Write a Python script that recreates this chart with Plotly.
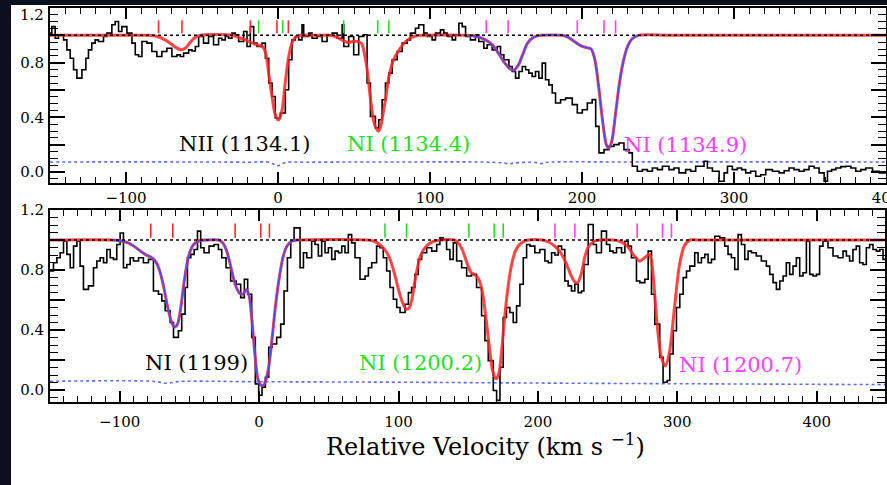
import plotly.graph_objects as go

# ---------------- data ----------------
# top panel: observed spectrum (left bin edges, normalised flux)
top_vel = [-150.0, -148.8, -146.6, -144.4, -141.1, -138.9, -136.7, -134.5, -132.3, -129.0,
           -126.4, -124.7, -122.5, -120.3, -118.1, -114.8, -112.6, -109.3, -107.1, -104.9,
           -102.7, -99.4, -96.1, -93.9, -91.7, -89.5, -86.2, -83.0, -79.7, -76.4,
           -73.1, -69.8, -66.5, -64.3, -62.1, -58.8, -56.6, -54.4, -52.2, -49.0,
           -45.7, -42.4, -39.1, -36.9, -34.7, -32.5, -30.3, -28.1, -25.9, -22.6,
           -20.4, -18.2, -16.0, -13.8, -10.5, -8.3, -6.1, -3.9, -1.8, 1.5,
           4.8, 7.0, 9.2, 11.4, 13.6, 15.8, 16.9, 20.2, 22.4, 25.7,
           29.0, 32.3, 35.6, 38.9, 42.2, 43.3, 46.5, 49.8, 53.1, 56.4,
           58.6, 60.8, 64.1, 66.3, 68.5, 70.7, 72.9, 75.1, 78.4, 81.7,
           85.0, 87.1, 90.4, 92.6, 95.9, 98.1, 101.4, 103.6, 106.9, 109.1,
           111.3, 114.6, 116.8, 119.0, 121.2, 123.4, 126.6, 129.9, 132.1, 135.4,
           137.6, 140.9, 144.2, 146.4, 148.6, 151.9, 154.1, 156.3, 158.5, 160.7,
           162.9, 165.0, 167.2, 169.4, 171.6, 173.8, 176.0, 178.2, 180.4, 182.6,
           185.9, 189.2, 193.6, 196.9, 200.2, 203.5, 206.7, 209.0, 211.2, 214.5,
           217.7, 221.0, 224.3, 227.6, 230.9, 233.1, 236.4, 239.7, 243.0, 246.3,
           249.6, 252.9, 257.2, 260.5, 263.8, 268.2, 271.5, 274.8, 280.3, 282.5,
           285.8, 290.2, 293.5, 295.7, 298.9, 302.2, 305.0, 307.7, 311.0, 314.3,
           317.6, 320.9, 325.3, 329.7, 333.0, 336.2, 339.5, 342.8, 346.1, 349.4,
           352.7, 356.0, 359.3, 361.5, 364.2, 367.0, 370.3, 373.6, 376.9, 380.1,
           383.4, 386.7, 391.1, 395.5]
top_flux = [1.016, 1.064, 0.979, 1.004, 0.967, 0.894, 0.833, 0.748, 0.687, 0.748,
            0.833, 0.894, 0.943, 0.967, 0.955, 0.991, 1.016, 1.077, 1.101, 1.028,
            1.064, 1.016, 0.943, 0.858, 0.845, 0.955, 0.943, 0.882, 0.845, 0.882,
            0.906, 0.845, 0.857, 0.845, 0.870, 0.894, 0.885, 0.918, 0.991, 0.943,
            0.991, 0.931, 0.979, 0.967, 0.991, 0.979, 1.016, 1.004, 0.955, 1.028,
            0.918, 1.064, 0.943, 0.918, 0.943, 0.833, 0.651, 0.553, 0.395, 0.432,
            0.602, 0.821, 0.967, 0.991, 0.967, 1.077, 0.991, 1.016, 0.979, 0.991,
            0.955, 1.004, 1.016, 0.979, 1.077, 0.918, 0.991, 0.858, 0.991, 1.004,
            0.651, 0.407, 0.322, 0.383, 0.529, 0.651, 0.724, 0.821, 0.882, 0.943,
            0.967, 1.016, 1.052, 1.077, 1.016, 0.991, 0.967, 1.016, 1.040, 1.016,
            0.991, 0.967, 1.004, 1.089, 1.064, 0.991, 0.967, 1.004, 0.955, 0.906,
            0.931, 0.894, 0.918, 0.858, 0.821, 0.772, 0.736, 0.687, 0.736, 0.772,
            0.748, 0.724, 0.699, 0.736, 0.687, 0.797, 0.675, 0.638, 0.578, 0.505,
            0.529, 0.541, 0.493, 0.432, 0.456, 0.505, 0.530, 0.334, 0.140, 0.164,
            0.188, 0.201, 0.213, 0.164, 0.140, 0.042, 0.006, 0.018, 0.006, 0.030,
            0.018, 0.042, 0.018, 0.030, -0.006, 0.018, 0.006, 0.042, 0.079, 0.030,
            0.006, -0.067, -0.006, 0.042, 0.018, 0.030, 0.018, -0.006, 0.006, -0.031,
            -0.020, 0.018, 0.006, -0.006, 0.010, 0.030, 0.018, 0.006, 0.018, 0.042,
            0.030, -0.006, -0.067, 0.006, 0.018, 0.030, 0.040, 0.042, 0.030, 0.006,
            0.018, 0.030, 0.006, -0.006]
top_vend = 400.0

# top panel: fitted model (red, blue part drawn over it)
top_model_vel = [-150, -100, -85, -79, -74, -70, -67, -64, -61, -58, -55, -51, -30, -26,
                 -21, -15, -10.5, -8.3, -6.1, -3.9, -1.8, 0.3, 2.6, 4.8, 7, 9.2, 11.4, 15,
                 22, 34, 39, 43, 46, 49, 52, 55, 57, 59, 61, 63, 64.5, 66, 67.5, 69,
                 71, 73, 76, 79.5, 84, 89, 95, 125, 131, 136, 141, 145, 149, 152.5,
                 155, 158, 161, 164, 168, 173, 187, 191, 195, 199, 203, 206, 208.5, 211,
                 213.5, 216, 217.5, 219.5, 222, 224.5, 227, 230, 233, 237, 260, 400]
top_model_flux = [1.0, 1.0, 1.0, 0.99, 0.965, 0.935, 0.91, 0.895, 0.905, 0.945, 0.98, 1.0, 1.0, 0.985,
                  0.965, 0.935, 0.92, 0.88, 0.72, 0.55, 0.42, 0.38, 0.45, 0.66, 0.84, 0.945, 0.985, 1.0,
                  1.0, 1.0, 0.985, 0.96, 0.948, 0.955, 0.955, 0.94, 0.86, 0.72, 0.52, 0.37, 0.32, 0.30, 0.33, 0.42,
                  0.55, 0.70, 0.82, 0.89, 0.955, 0.99, 1.0, 1.0, 0.99, 0.97, 0.93, 0.87, 0.80, 0.755,
                  0.745, 0.78, 0.86, 0.94, 0.985, 1.0, 1.0, 0.985, 0.955, 0.925, 0.91, 0.90, 0.82, 0.62,
                  0.38, 0.20, 0.175, 0.22, 0.42, 0.64, 0.80, 0.92, 0.975, 1.0, 1.0, 1.0]
top_blue_range = (125, 237)

top_err_vel = [-150, -60, -20, -5, -1, 1, 5, 20, 80, 140, 149, 152, 155, 170, 173, 176, 230, 400]
top_err_flux = [0.074, 0.074, 0.072, 0.070, 0.045, 0.050, 0.070, 0.072, 0.074, 0.072, 0.066,
                0.058, 0.066, 0.070, 0.062, 0.070, 0.074, 0.074]

top_red_comp = [-78.6, -63.2, -18.2, -0.7, 6.8]
top_green_comp = [-12.7, 3.1, 43.2, 65.6, 72.9]
top_magenta_comp = [137.0, 151.4, 196.9, 214.5, 222.1]

# bottom panel: observed spectrum
bot_vel = [-150.0, -147.5, -145.1, -142.7, -140.3, -137.9, -135.5, -133.1, -130.7, -128.4,
           -126.0, -122.4, -118.8, -116.4, -114.0, -111.6, -109.2, -106.8, -104.5, -102.1,
           -99.7, -97.3, -94.9, -92.5, -90.1, -86.5, -83.0, -79.4, -75.8, -72.2,
           -69.8, -67.4, -63.8, -61.4, -57.9, -55.5, -53.1, -51.4, -49.0, -46.6,
           -44.2, -41.9, -39.5, -35.9, -32.3, -29.2, -26.8, -23.7, -20.4, -16.5,
           -13.2, -10.6, -8.2, -5.3, -2.7, -0.3, 2.1, 4.5, 6.9, 9.3,
           12.6, 15.5, 17.9, 20.3, 22.7, 25.1, 29.4, 31.8, 34.2, 37.7,
           40.1, 42.5, 44.9, 47.3, 49.7, 52.1, 54.5, 56.9, 59.3, 61.6,
           64.0, 66.4, 68.8, 72.4, 76.0, 78.4, 80.8, 84.3, 86.7, 89.1,
           91.5, 93.9, 96.3, 98.7, 101.1, 104.7, 107.1, 109.4, 111.8, 114.2,
           116.6, 120.2, 123.8, 127.4, 129.7, 132.1, 134.5, 136.9, 139.3, 141.7,
           145.3, 148.9, 152.4, 156.0, 159.6, 162.0, 164.4, 168.0, 170.4, 172.8,
           175.1, 177.5, 179.9, 182.3, 184.7, 187.1, 189.5, 191.9, 194.3, 197.8,
           201.4, 205.0, 207.4, 209.8, 212.2, 214.6, 217.0, 219.3, 221.7, 224.1,
           226.5, 228.9, 231.3, 233.0, 236.1, 239.7, 242.0, 245.6, 249.2, 251.6,
           254.0, 256.4, 260.0, 262.4, 264.7, 267.1, 270.7, 273.1, 276.7, 279.1,
           281.5, 283.9, 287.4, 289.8, 292.7, 294.6, 297.0, 299.4, 301.8, 304.2,
           306.6, 309.0, 312.5, 314.9, 317.3, 319.7, 322.1, 324.5, 326.9, 330.5,
           334.0, 336.4, 338.8, 341.2, 343.6, 346.0, 348.4, 350.8, 353.2, 356.7,
           360.3, 363.9, 366.3, 368.7, 371.1, 373.5, 375.9, 378.2, 380.6, 383.0,
           385.4, 387.8, 390.2, 392.6, 395.0, 397.4, 399.8, 402.1, 404.5, 408.1,
           411.7, 415.3, 418.9, 421.3, 423.6, 426.0, 428.4, 430.8, 433.2, 435.6,
           438.0, 440.4, 442.8, 445.2, 447.6]
bot_flux = [0.793, 0.848, 0.882, 0.915, 0.992, 0.904, 0.815, 0.959, 0.992, 0.826,
            0.671, 0.694, 0.815, 0.860, 0.882, 0.848, 0.937, 0.882, 0.871, 0.970,
            1.047, 0.815, 0.837, 0.882, 0.860, 0.882, 0.848, 0.871, 0.660, 0.638,
            0.594, 0.528, 0.450, 0.351, 0.395, 0.506, 0.683, 0.882, 0.904, 0.937,
            1.059, 0.948, 0.915, 0.959, 0.970, 0.937, 0.882, 0.815, 0.727, 0.705,
            0.616, 0.738, 0.638, 0.351, 0.041, -0.035, 0.019, 0.085, 0.284, 0.307,
            0.351, 0.439, 0.660, 0.882, 0.992, 1.081, 0.815, 0.915, 0.882, 0.992,
            0.970, 0.893, 0.992, 0.915, 0.948, 0.871, 0.926, 0.915, 0.959, 0.915,
            1.036, 0.981, 0.882, 0.738, 0.760, 0.815, 0.848, 0.959, 0.948, 0.882,
            0.793, 0.683, 0.605, 0.550, 0.517, 0.572, 0.649, 0.683, 0.771, 0.871,
            0.915, 0.948, 0.926, 0.970, 1.014, 1.003, 0.937, 0.871, 0.981, 0.860,
            0.815, 0.760, 0.771, 0.683, 0.495, 0.329, 0.196, -0.003, -0.069, 0.152,
            0.483, 0.550, 0.517, 0.450, 0.561, 0.705, 0.882, 0.970, 0.959, 0.915,
            0.937, 0.860, 0.848, 0.915, 0.900, 0.959, 0.937, 0.727, 0.694, 0.660,
            0.705, 0.649, 0.660, 0.837, 1.103, 0.970, 0.915, 1.059, 0.970, 0.926,
            0.915, 0.948, 0.915, 0.992, 0.959, 0.882, 0.727, 0.716, 0.738, 0.926,
            0.638, 0.439, 0.218, 0.052, 0.063, 0.240, 0.395, 0.550, 0.638, 0.749,
            0.793, 0.826, 0.915, 0.848, 0.882, 0.904, 0.848, 0.871, 1.025, 1.014,
            0.959, 0.904, 0.882, 0.804, 1.036, 0.970, 0.871, 0.926, 0.915, 0.893,
            0.860, 0.826, 0.771, 0.716, 0.671, 0.727, 0.760, 0.848, 0.771, 0.826,
            0.882, 0.760, 0.782, 0.992, 0.771, 0.760, 0.771, 0.959, 0.992, 0.948,
            0.893, 0.882, 0.926, 0.893, 0.860, 0.937, 0.959, 0.848, 0.837, 0.948,
            0.970, 0.937, 0.926, 0.937, 0.871]
bot_vend = 449.0

bot_model_vel = [-150, -105, -100, -95, -90, -85, -81, -77.5, -74.5, -71.5, -68.5, -65.5, -62.5,
                 -60.5, -58.5, -56.5, -54.5, -52.5, -50, -47, -43, -38, -29, -26, -23, -20,
                 -17, -14, -11.5, -9, -7, -5, -3, -1, 1, 3, 5, 7, 9.5, 12, 14.5, 17, 20, 24,
                 29, 78, 83, 87, 91, 94, 97, 100, 103, 105.5, 107.5, 109.5, 111.5, 113.5, 116,
                 120, 125, 131, 140, 143, 146, 149, 152, 155, 157.5, 160, 162.5, 165, 167.5,
                 170, 172, 174, 176, 178.5, 181, 184, 188, 193, 203, 208, 212, 216, 220,
                 223.5, 226.5, 228.5, 231, 233.5, 236, 240, 245, 254, 259, 264, 269, 273,
                 277, 280, 281.5, 283, 285.5, 288.5, 291.5, 294.5, 298, 301.5, 305, 309,
                 315, 449]
bot_model_flux = [1.0, 1.0, 0.995, 0.985, 0.96, 0.925, 0.90, 0.885, 0.86, 0.80, 0.69, 0.55, 0.445,
                  0.42, 0.44, 0.53, 0.67, 0.80, 0.91, 0.97, 0.995, 1.0, 1.0, 0.98, 0.92, 0.81,
                  0.70, 0.645, 0.64, 0.67, 0.62, 0.45, 0.24, 0.08, 0.035, 0.03, 0.07, 0.16, 0.36, 0.58, 0.75, 0.88, 0.96, 0.995,
                  1.0, 1.0, 0.99, 0.965, 0.925, 0.87, 0.78, 0.67, 0.58, 0.54, 0.545, 0.60, 0.71, 0.81, 0.90,
                  0.96, 0.99, 1.0, 1.0, 0.98, 0.93, 0.85, 0.785, 0.765, 0.74, 0.66, 0.50, 0.30, 0.13,
                  0.075, 0.11, 0.26, 0.47, 0.68, 0.83, 0.93, 0.98, 1.0, 1.0, 0.985, 0.96, 0.92, 0.85,
                  0.77, 0.72, 0.715, 0.77, 0.88, 0.95, 0.99, 1.0, 1.0, 0.99, 0.96, 0.895, 0.86,
                  0.885, 0.905, 0.86, 0.73, 0.44, 0.22, 0.16, 0.26, 0.55, 0.83, 0.96, 1.0,
                  1.0, 1.0]
bot_blue_range = (-105, 29)

bot_err_vel = [-150, -75, -66, -58, 0, 100, 170, 250, 449]
bot_err_flux = [0.058, 0.057, 0.045, 0.056, 0.055, 0.052, 0.048, 0.044, 0.036]

bot_red_comp = [-77.7, -61.9, -17.2, 1.2, 7.4]
bot_green_comp = [90.3, 105.8, 150.5, 168.7, 175.1]
bot_magenta_comp = [212.2, 226.5, 271.2, 289.4, 295.8]

continuum = 1.0
y_label_ticks = [0.0, 0.4, 0.8, 1.2]
y_long_ticks = [0.2, 0.6, 1.0]

# ---------------- figure ----------------
W, H = 887, 485
FONT = "DejaVu Serif"
RED = "rgba(255,35,35,0.85)"
BLUE = "rgba(75,75,250,0.95)"
GREEN = "#1fe01f"
MAGENTA = "#ff3cff"

assert len(top_vel) == len(top_flux)
assert len(bot_vel) == len(bot_flux)
assert len(top_model_vel) == len(top_model_flux)
assert len(bot_model_vel) == len(bot_model_flux)

fig = go.Figure()


def add_panel(xa, ya, vel, flux, vend, mv, mf, brange, ev, ef, comps, vmin, vmax):
    fig.add_trace(go.Scatter(x=ev, y=ef, mode="lines", xaxis=xa, yaxis=ya,
                             line=dict(color="rgba(60,80,255,0.85)", width=1.6, dash="dot"),
                             line_shape="spline", hoverinfo="skip"))
    xs = list(vel) + [vend]
    ys = list(flux) + [flux[-1]]
    fig.add_trace(go.Scatter(x=xs, y=ys, mode="lines", xaxis=xa, yaxis=ya,
                             line=dict(color="black", width=1.6), line_shape="hv"))
    fig.add_trace(go.Scatter(x=mv, y=mf, mode="lines", xaxis=xa, yaxis=ya,
                             line=dict(color=RED, width=3.0, smoothing=0.8), line_shape="spline"))
    bv = [v for v in mv if brange[0] <= v <= brange[1]]
    bf = [f for v, f in zip(mv, mf) if brange[0] <= v <= brange[1]]
    fig.add_trace(go.Scatter(x=bv, y=bf, mode="lines", xaxis=xa, yaxis=ya,
                             line=dict(color=BLUE, width=1.8, smoothing=0.8), line_shape="spline"))
    fig.add_trace(go.Scatter(x=[vmin, vmax], y=[continuum, continuum], mode="lines",
                             xaxis=xa, yaxis=ya,
                             line=dict(color="black", width=1.5, dash="dot")))
    for col, lst in comps:
        tx, ty = [], []
        for v in lst:
            tx += [v, v, None]
            ty += [1.015, 1.11, None]
        fig.add_trace(go.Scatter(x=tx, y=ty, mode="lines", xaxis=xa, yaxis=ya,
                                 line=dict(color=col, width=1.6)))


add_panel("x", "y", top_vel, top_flux, top_vend, top_model_vel, top_model_flux,
          top_blue_range, top_err_vel, top_err_flux,
          [("#ff2a2a", top_red_comp), (GREEN, top_green_comp), (MAGENTA, top_magenta_comp)],
          -150, 400)
add_panel("x2", "y2", bot_vel, bot_flux, bot_vend, bot_model_vel, bot_model_flux,
          bot_blue_range, bot_err_vel, bot_err_flux,
          [("#ff2a2a", bot_red_comp), (GREEN, bot_green_comp), (MAGENTA, bot_magenta_comp)],
          -150, 449)

axis_common = dict(showline=True, linecolor="black", linewidth=1.8, mirror="ticks",
                   ticks="inside", tickcolor="black", tickwidth=1.5,
                   showgrid=False, zeroline=False, layer="above traces", automargin=False,
                   tickfont=dict(family=FONT, size=15, color="black"))


def xaxis(domain, anchor, rng, standoff):
    d = dict(axis_common)
    d.update(domain=domain, anchor=anchor, range=rng, tickmode="linear", tick0=0, dtick=100,
             ticklen=11, ticklabelstandoff=standoff, ticklabeloverflow="allow",
             minor=dict(ticks="inside", tickmode="linear", tick0=0, dtick=10, ticklen=6,
                        tickcolor="black", tickwidth=1.3, showgrid=False))
    return d


def yaxis(domain, anchor, labelled):
    d = dict(axis_common)
    d.update(domain=domain, anchor=anchor, range=[-0.08, 1.2], tickmode="array",
             tickvals=labelled, ticklen=15, ticklabelstandoff=1, tickformat=".1f",
             ticklabeloverflow="allow",
             minor=dict(ticks="inside", tickmode="linear", tick0=0, dtick=0.05, ticklen=8,
                        tickcolor="black", tickwidth=1.3, showgrid=False))
    return d


def yaxis_long(over, anchor, vals):
    # unlabelled long ticks
    return dict(overlaying=over, anchor=anchor, range=[-0.08, 1.2], tickmode="array",
                tickvals=vals, ticks="inside", ticklen=15, tickwidth=1.5,
                tickcolor="black", mirror="ticks", showline=False, showticklabels=False,
                showgrid=False, zeroline=False, layer="above traces", automargin=False)


top_labelled = [v for v in y_label_ticks if v < 1.1]   # "1.2" of the top panel is placed by hand

fig.update_layout(
    width=W, height=H,
    margin=dict(l=0, r=0, t=0, b=0, autoexpand=False),
    paper_bgcolor="#0b0f1e",
    plot_bgcolor="white",
    showlegend=False,
    xaxis=xaxis([50 / W, 886 / W], "y", [-150, 400], 0),
    yaxis=yaxis([1 - 183 / H, 1 - 8 / H], "x", top_labelled),
    xaxis2=xaxis([50 / W, 885 / W], "y2", [-150, 449], 5),
    yaxis2=yaxis([1 - 402 / H, 1 - 210 / H], "x2", y_label_ticks),
    yaxis3=yaxis_long("y", "x", y_long_ticks),
    yaxis4=yaxis_long("y2", "x2", y_long_ticks),
    shapes=[
        dict(type="rect", xref="paper", yref="paper", x0=11 / W, x1=1, y0=0, y1=1 - 5 / H,
             fillcolor="white", line=dict(width=0), layer="below"),
    ],
)

# invisible anchor traces so the overlay tick axes are drawn
fig.add_trace(go.Scatter(x=[-150], y=[1.0], mode="markers", marker=dict(opacity=0),
                         xaxis="x", yaxis="y3", hoverinfo="skip"))
fig.add_trace(go.Scatter(x=[-150], y=[1.0], mode="markers", marker=dict(opacity=0),
                         xaxis="x2", yaxis="y4", hoverinfo="skip"))

# top-panel "1.2" label (sits just below the frame top, as in the original)
fig.add_annotation(x=46 / W, y=1 - 15 / H, xref="paper", yref="paper", text="1.2",
                   showarrow=False, xanchor="right", yanchor="middle",
                   font=dict(family=FONT, size=15, color="black"))

labels = [
    ("x", "y", -22, 0.205, "NII (1134.1)", "black"),
    ("x", "y", 86, 0.205, "NI (1134.4)", GREEN),
    ("x", "y", 268, 0.195, "NI (1134.9)", MAGENTA),
    ("x2", "y2", -45, 0.18, "NI (1199)", "black"),
    ("x2", "y2", 116, 0.18, "NI (1200.2)", GREEN),
    ("x2", "y2", 345, 0.165, "NI (1200.7)", MAGENTA),
]
for xr, yr, x, y, t, c in labels:
    fig.add_annotation(x=x, y=y, xref=xr, yref=yr, text=t, showarrow=False,
                       font=dict(family=FONT, size=21, color=c),
                       xanchor="center", yanchor="middle")

fig.add_annotation(x=485 / W, y=1 - 445 / H, xref="paper", yref="paper",
                   text="Relative Velocity (km s <sup>\u22121</sup>)", showarrow=False,
                   font=dict(family=FONT, size=24, color="black"),
                   xanchor="center", yanchor="middle")

fig.write_html("out.html")
